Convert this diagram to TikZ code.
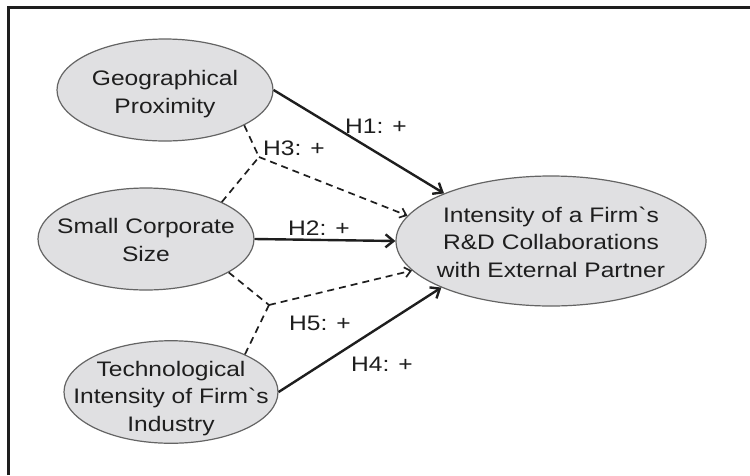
\documentclass[tikz,border=0pt]{standalone}
\usepackage{fontspec}
\setmainfont[FakeStretch=1.17]{Liberation Sans}
\newfontfamily\arialish[FakeStretch=1.17]{Liberation Sans}
\usetikzlibrary{arrows.meta,shapes.geometric}
\definecolor{fillg}{RGB}{224,224,226}
\definecolor{edgeg}{RGB}{100,100,100}
\definecolor{ink}{RGB}{30,30,30}
\newcommand\ctext[2]{\raisebox{#1}[\height][\depth]{\begin{tabular}{@{}c@{}}#2\end{tabular}}}
\begin{document}
\begin{tikzpicture}[x=1pt,y=-1pt,
  construct/.style={ellipse, draw=edgeg, line width=1.2pt, fill=fillg,
    inner xsep=-25pt, inner ysep=-5pt, align=center,
    font=\arialish\fontsize{21}{27.5}\selectfont, text=ink},
  hyplabel/.style={font=\arialish\fontsize{21}{25}\selectfont, text=ink, inner sep=0pt},
  solidarrow/.style={draw=ink, line width=2.4pt, -{Straight Barb[length=8pt,width=13pt]}},
  dashline/.style={draw=ink, line width=1.7pt, dash pattern=on 7pt off 5pt},
  dasharrow/.style={dashline, -{Straight Barb[length=6pt,width=10pt]}}
]
\useasboundingbox (0,0) rectangle (750,475);
\fill[white] (0,0) rectangle (750,475);
\draw[ink, line width=3.2pt] (8.5,475) -- (8.5,7.5) -- (750,7.5);

\node[construct, minimum width=216pt, minimum height=102pt] (geo) at (165,90) {\ctext{-4pt}{Geographical\\Proximity}};
\node[construct, minimum width=216pt, minimum height=102pt] (size) at (146,239) {\ctext{-3pt}{Small Corporate\\Size}};
\node[construct, minimum width=214pt, minimum height=102pt] (tech) at (171,392) {\ctext{-6pt}{Technological\\Intensity of Firm`s\\Industry}};
\node[construct, minimum width=310pt, minimum height=130pt] (out) at (551,241) {\ctext{-3pt}{Intensity of a Firm`s\\R\&D Collaborations\\with External Partner}};

\coordinate (j1) at (259,157);
\coordinate (j2) at (269,305);

\draw[solidarrow] (geo.east) -- (out.156);
\draw[solidarrow] (size.east) -- (out.west);
\draw[solidarrow] (tech.east) -- (out.203);

\draw[dashline] (geo.-24) -- (j1);
\draw[dashline] (size.26) -- (j1);
\draw[dasharrow] (j1) -- (out.170);

\draw[dashline] (size.-22) -- (j2);
\draw[dashline] (tech.27) -- (j2);
\draw[dasharrow] (j2) -- (out.192);

\node[hyplabel] (h1) at (376,126) {H1: +};
\node[hyplabel] (h3) at (294,148) {H3: +};
\node[hyplabel] (h2) at (319,228) {H2: +};
\node[hyplabel] (h5) at (320,323) {H5: +};
\node[hyplabel] (h4) at (382,364) {H4: +};
\end{tikzpicture}
\end{document}
